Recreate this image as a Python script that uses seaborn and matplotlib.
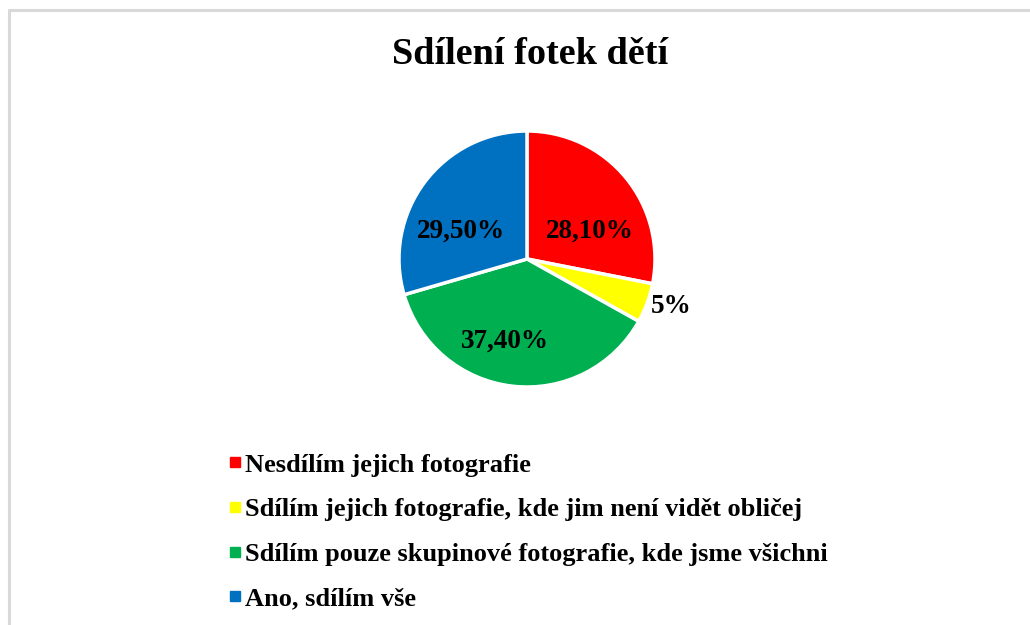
import seaborn as sns
import matplotlib.pyplot as plt
from matplotlib.lines import Line2D

sns.set_theme(style="white")
plt.rcParams['font.family'] = ['Liberation Serif', 'DejaVu Serif']
plt.rcParams['text.color'] = 'black'

# data
categories = ["Nesdílím jejich fotografie",
              "Sdílím jejich fotografie, kde jim není vidět obličej",
              "Sdílím pouze skupinové fotografie, kde jsme všichni",
              "Ano, sdílím vše"]
values = [28.1, 5.0, 37.4, 29.5]
labels = ["28,10%", "5%", "37,40%", "29,50%"]
colors = ["#ff0000", "#ffff00", "#00b050", "#0070c0"]

W, H = 1030, 625
fig = plt.figure(figsize=(W / 100, H / 100), dpi=100)
fig.patch.set_facecolor("white")

# chart frame (light grey border, cut at right/bottom)
fig.add_artist(Line2D([9 / W, 1], [1 - 10 / H, 1 - 10 / H], color="#d9d9d9", lw=2.2))
fig.add_artist(Line2D([9 / W, 9 / W], [0, 1 - 10 / H], color="#d9d9d9", lw=2.2))

cx, cy, r = 527, 259, 128
ax = fig.add_axes([(cx - r) / W, (H - cy - r) / H, 2 * r / W, 2 * r / H])
wedges, _ = ax.pie(values, colors=colors, startangle=90, counterclock=False,
                   wedgeprops={"edgecolor": "white", "linewidth": 2.5})
ax.set_xlim(-1, 1)
ax.set_ylim(-1, 1)
ax.set_aspect("equal")
ax.axis("off")

# data labels
label_pos = [(0.49, 0.22), (1.13, -0.37), (-0.17, -0.64), (-0.52, 0.22)]
for (x, y), t in zip(label_pos, labels):
    ax.text(x, y, t, ha="center", va="center", fontsize=19.5, fontweight="bold",
            color="black", clip_on=False)

fig.text(530 / W, 1 - 55 / H, "Sdílení fotek dětí", ha="center", va="center",
         fontsize=27.5, fontweight="bold", color="black")

handles = [plt.Line2D([], [], marker="s", linestyle="", markersize=6.5,
                      markerfacecolor=c, markeredgecolor=c) for c in colors]
leg = fig.legend(handles, categories, loc="upper left", bbox_to_anchor=(217 / W, 1 - 440 / H),
                 frameon=False, prop={"size": 19, "weight": "bold"}, borderpad=0,
                 handletextpad=0.15, handlelength=0.4, labelspacing=0.8)
for t in leg.get_texts():
    t.set_color("black")

fig.savefig("out.png", dpi=100, facecolor="white")
